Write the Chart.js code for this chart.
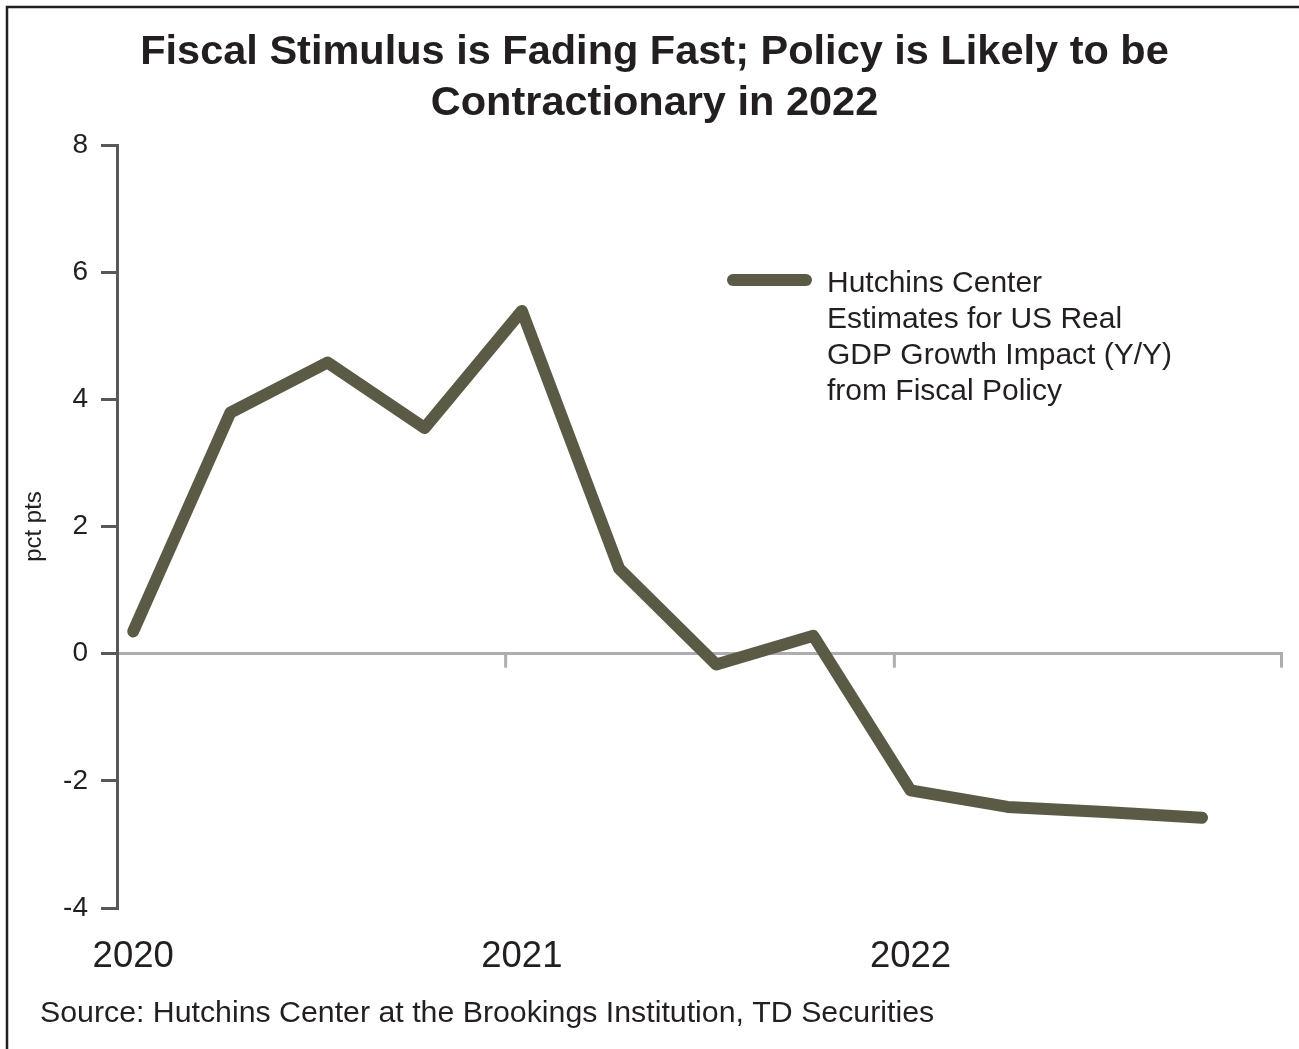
<!DOCTYPE html>
<html>
<head>
<meta charset="utf-8">
<title>Fiscal Stimulus is Fading Fast</title>
<script src="https://cdn.jsdelivr.net/npm/chart.js@4.4.1/dist/chart.umd.min.js"></script>
<style>
  html, body { margin: 0; padding: 0; background: #fff; }
</style>
</head>
<body>
<canvas id="fiscalChart" width="1299" height="1049"></canvas>
<script>
// Chart data
const quarters = [
  "2020-01", "2020-04", "2020-07", "2020-10",
  "2021-01", "2021-04", "2021-07", "2021-10",
  "2022-01", "2022-04", "2022-07", "2022-10",
];
const impact = [0.35, 3.79, 4.58, 3.55, 5.39, 1.34, -0.17, 0.28, -2.15, -2.41, -2.49, -2.58];
const yearLabels = ["2020", "2021", "2022"];
const yearMarks = [2021, 2022, 2023];
const seriesLabel = [
  "Hutchins Center",
  "Estimates for US Real",
  "GDP Growth Impact (Y/Y)",
  "from Fiscal Policy",
];
const titleLines = [
  "Fiscal Stimulus is Fading Fast; Policy is Likely to be",
  "Contractionary in 2022",
];
const sourceText = "Source: Hutchins Center at the Brookings Institution, TD Securities";

const FONT = "'Liberation Sans', Arial, Helvetica, sans-serif";
const INK = "#231f20";
const LINE_COLOR = "#5b5b45";

// month string -> decimal year (mid-month)
function toDecimal(q) {
  const parts = q.split("-");
  return Number(parts[0]) + (Number(parts[1]) - 0.5) / 12;
}

const points = quarters.map((q, i) => ({ x: toDecimal(q), y: impact[i] }));

// Extra drawing: title, x tick marks on the zero line, legend, source, frame
const extrasPlugin = {
  id: "extras",
  afterDraw(chart) {
    const ctx = chart.ctx;
    const xs = chart.scales.x;
    const ys = chart.scales.y;
    const zeroY = ys.getPixelForValue(0);

    ctx.save();
    // title
    ctx.fillStyle = INK;
    ctx.font = "bold 41.5px " + FONT;
    ctx.textAlign = "center";
    ctx.textBaseline = "middle";
    titleLines.forEach((line, i) => {
      ctx.fillText(line, 654.5, 53 + i * 51);
    });

    // ticks hanging from zero line
    ctx.strokeStyle = "#adadb0";
    ctx.lineWidth = 3;
    yearMarks.forEach((yr) => {
      const px = Math.min(xs.getPixelForValue(yr), chart.chartArea.right - 1.5);
      ctx.beginPath();
      ctx.moveTo(px, zeroY);
      ctx.lineTo(px, zeroY + 14);
      ctx.stroke();
    });

    // legend
    const ds = chart.data.datasets[0];
    ctx.strokeStyle = ds.borderColor;
    ctx.lineWidth = 12;
    ctx.lineCap = "round";
    ctx.beginPath();
    ctx.moveTo(733, 280);
    ctx.lineTo(806, 280);
    ctx.stroke();
    ctx.font = "30px " + FONT;
    ctx.textAlign = "left";
    seriesLabel.forEach((line, i) => {
      ctx.fillText(line, 827, 284 + i * 36);
    });

    // source
    ctx.font = "30.3px " + FONT;
    ctx.fillText(sourceText, 40, 1014);

    // frame (top and left)
    ctx.strokeStyle = INK;
    ctx.lineWidth = 2.5;
    ctx.lineCap = "butt";
    ctx.beginPath();
    ctx.moveTo(7, chart.height);
    ctx.lineTo(7, 7);
    ctx.lineTo(chart.width, 7);
    ctx.stroke();
    ctx.restore();
  },
};

const chart = new Chart(document.getElementById("fiscalChart").getContext("2d"), {
  type: "line",
  data: {
    datasets: [
      {
        label: seriesLabel.join(" "),
        data: points,
        borderColor: LINE_COLOR,
        backgroundColor: LINE_COLOR,
        borderWidth: 12,
        borderCapStyle: "round",
        borderJoinStyle: "round",
        pointRadius: 0,
        tension: 0,
      },
    ],
  },
  options: {
    responsive: false,
    animation: false,
    layout: { padding: { left: 0, right: 16, top: 145, bottom: 0 } },
    plugins: {
      legend: { display: false },
      tooltip: { enabled: false },
      title: { display: false },
    },
    scales: {
      x: {
        type: "linear",
        min: 2020,
        max: 2023,
        afterBuildTicks(scale) {
          scale.ticks = yearLabels.map((y) => ({ value: Number(y) + 0.5 / 12 }));
        },
        afterFit(scale) {
          scale.height = 141;
        },
        grid: { display: false, drawTicks: false },
        border: { display: false },
        ticks: {
          autoSkip: false,
          maxRotation: 0,
          padding: 27,
          color: INK,
          font: { family: FONT, size: 36.5 },
          callback: (v) => String(Math.floor(v)),
        },
      },
      y: {
        min: -4,
        max: 8,
        afterFit(scale) {
          scale.width = 117;
        },
        ticks: {
          stepSize: 2,
          padding: 13,
          color: INK,
          font: { family: FONT, size: 28 },
        },
        grid: {
          color: (c) => (c.tick && c.tick.value === 0 ? "#adadb0" : "rgba(0,0,0,0)"),
          lineWidth: 3,
          tickColor: "#58585a",
          tickWidth: 3,
          tickLength: 16,
        },
        border: { display: true, color: "#58585a", width: 3 },
        title: {
          display: true,
          text: "pct pts",
          color: INK,
          font: { family: FONT, size: 24 },
          padding: { top: 20, bottom: 0 },
        },
      },
    },
  },
  plugins: [extrasPlugin],
});
</script>
</body>
</html>
